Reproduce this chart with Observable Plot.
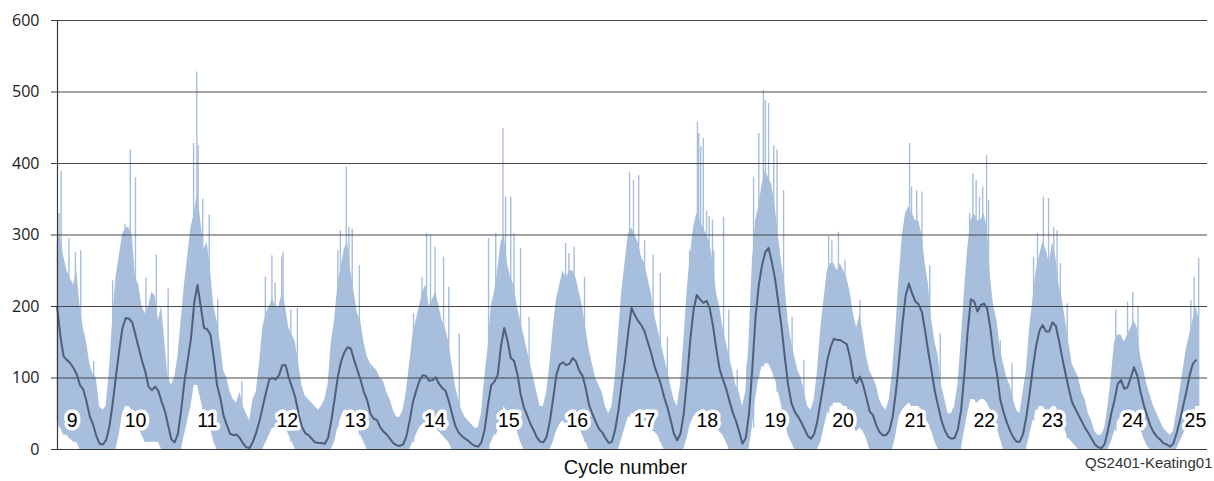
<!DOCTYPE html>
<html>
<head>
<meta charset="utf-8">
<script src="https://cdn.jsdelivr.net/npm/d3@7"></script>
<script src="https://cdn.jsdelivr.net/npm/@observablehq/plot@0.6"></script>
<style>
  html, body { margin: 0; padding: 0; background: #ffffff; }
  #chart svg { display: block; }
</style>
</head>
<body>
<div id="chart"></div>
<script>
// ---- data (half-year samples starting 1849.0) ----
const startYear = 1849.0;
const stepYears = 0.5;

// 13-month smoothed sunspot number (dark line)
const smoothed = [
  199,158,130,125,121,114,105,90,84,67, 46,35,19,8,7,13,32,64,102,138,
  170,184,183,178,160,142,124,109,88,83, 88,82,67,54,34,14,10,22,55,95,
  125,155,205,230,200,170,168,160,128,90, 72,47,34,22,20,21,16,8,3,2,
  11,24,40,60,80,98,100,98,104,118, 118,100,87,72,50,32,23,20,15,10,
  9,9,8,16,40,70,102,123,136,143, 141,125,111,97,80,69,50,43,41,31,
  25,21,15,9,6,5,7,18,40,66, 82,96,104,103,96,97,101,92,86,82,
  68,50,33,24,19,15,12,8,5,4, 10,28,62,90,95,104,145,170,152,128,
  124,106,78,59,48,36,27,17,11,10, 18,40,72,105,119,122,118,120,128,123,
  110,103,85,62,50,39,29,24,16,9, 11,28,55,92,124,165,198,188,180,174,
  165,150,135,117,104,91,73,59,41,22, 13,22,50,97,153,195,216,210,205,208,
  197,172,140,112,98,85,68,52,40,25, 8,16,50,112,185,230,258,276,282,262,
  238,205,170,128,90,65,53,46,38,29, 19,15,22,41,69,97,125,143,155,153,
  153,150,147,128,100,93,102,90,72,53, 48,34,24,20,20,26,45,80,125,175,
  215,232,218,207,203,192,165,135,108,80, 60,40,27,18,15,16,28,55,105,165,
  210,207,193,202,204,197,168,130,105,70, 52,38,26,17,11,11,22,46,78,115,
  145,166,174,165,165,178,173,152,128,106, 85,66,57,48,39,30,23,15,7,3,
  2,8,27,50,69,92,97,85,87,101, 115,103,80,62,47,33,24,18,14,9,
  7,4,8,22,40,60,80,103,120,125
];

// upper edge of the dense monthly band (light blue)
const monthlyHigh = [
  290,300,270,250,240,230,250,200,170,150, 120,105,100,60,55,60,110,180,240,270,
  300,310,310,300,240,230,200,190,200,220, 215,180,200,150,100,90,100,130,180,230,
  270,310,330,360,320,280,290,250,200,180, 150,110,100,80,70,65,80,60,50,40,
  70,80,120,170,190,200,210,200,200,220, 200,170,160,150,120,90,75,70,65,60,
  55,60,70,90,150,180,230,255,280,290, 250,220,190,180,150,130,120,115,110,100,
  95,80,70,55,45,45,55,80,120,160, 180,200,220,230,200,210,220,200,180,170,
  150,120,90,70,55,45,40,35,30,30, 50,100,140,200,220,250,290,300,260,240,
  230,200,180,160,140,120,100,80,60,60, 80,120,170,210,230,250,240,250,250,240,
  220,200,170,140,120,100,90,80,60,50, 60,100,160,220,260,300,310,300,290,270,
  260,240,220,190,170,150,130,110,90,70, 60,90,150,220,270,310,330,320,310,300,
  290,260,220,200,170,150,130,110,90,80, 60,80,150,260,320,340,370,390,380,370,
  340,300,260,230,180,150,130,110,100,80, 60,55,70,110,170,210,250,260,260,250,
  260,250,240,220,190,170,190,160,130,110, 100,90,70,60,55,70,110,170,240,300,
  330,340,330,320,320,300,260,230,180,150, 130,90,70,50,50,60,90,150,220,280,
  320,330,320,320,330,310,240,200,180,140, 120,100,90,70,55,50,80,110,170,210,
  250,270,290,280,260,290,270,230,210,180, 150,120,110,100,80,70,50,40,25,20,
  20,30,60,100,150,160,160,150,160,170, 180,170,130,110,90,75,60,50,40,30,
  25,20,25,50,80,110,140,160,180,200,180
];

// lower edge of the dense monthly band
const monthlyLow = [
  40,30,20,20,15,10,10,0,0,0, 0,0,0,0,0,0,0,0,0,20,
  50,60,60,55,40,30,20,10,10,10, 10,10,0,0,0,0,0,0,0,20,
  40,60,90,90,70,50,40,30,10,0, 0,0,0,0,0,0,0,0,0,0,
  0,0,0,0,10,20,30,30,30,30, 30,20,10,0,0,0,0,0,0,0,
  0,0,0,0,0,10,30,45,55,55, 50,40,30,20,10,0,0,0,0,0,
  0,0,0,0,0,0,0,0,0,10, 20,30,35,35,30,30,30,25,20,15,
  10,0,0,0,0,0,0,0,0,0, 0,0,0,10,20,25,45,60,50,40,
  35,25,10,0,0,0,0,0,0,0, 0,0,10,25,35,40,35,35,40,35,
  30,20,10,0,0,0,0,0,0,0, 0,0,0,15,30,45,50,50,45,40,
  40,35,30,25,20,10,0,0,0,0, 0,0,0,15,35,45,50,50,50,50,
  45,40,30,25,20,10,0,0,0,0, 0,0,0,30,70,100,115,120,120,110,
  100,80,60,40,20,10,0,0,0,0, 0,0,0,0,10,30,50,60,65,65,
  65,60,60,45,30,25,30,25,15,0, 0,0,0,0,0,0,0,20,45,55,
  60,65,60,60,60,55,45,35,25,10, 0,0,0,0,0,0,0,0,25,50,
  70,70,65,70,70,65,55,40,30,15, 0,0,0,0,0,0,0,0,20,40,
  55,60,60,55,55,60,60,50,40,25, 15,10,5,0,0,0,0,0,0,0,
  0,0,0,10,25,40,45,35,35,45, 55,45,30,15,5,0,0,0,0,0,
  0,0,0,0,10,20,30,45,55,60,60
];

// prominent single-month spikes
const spikeYears = [
  1849.3,1849.6,1850.8,1851.8,1852.6,1854.6,1857.5,1859.4,1860.2,1861.0,1862.6,1864.2,1866.0,1867.9,
  1869.9,1870.4,1870.6,1871.3,1872.3,1873.6,1877.3,
  1880.9,1881.9,1882.4,1883.4,1883.6,1884.8,1885.8,1892.0,1892.4,1893.3,1893.7,1894.2,1895.3,
  1903.6,1904.9,1905.6,1906.2,1906.9,1908.2,1909.0,1910.6,
  1915.1,1916.2,1917.3,1917.7,1918.5,1919.0,1920.0,1921.3,1926.9,1927.4,1928.2,1929.8,
  1936.7,1937.3,1938.1,1939.0,1940.3,1941.4,1942.5,1945.9,
  1947.1,1947.3,1947.6,1948.0,1948.5,1948.9,1949.4,1949.6,1951.1,1951.9,1953.2,1954.7,
  1955.7,1956.5,1957.2,1957.5,1958.0,1958.8,1959.3,1960.3,1961.6,1963.4,
  1967.2,1967.7,1968.7,1969.7,1972.0,
  1979.6,1979.9,1980.7,1981.5,1982.7,1984.3,1987.4,1988.8,
  1989.3,1989.8,1990.3,1990.8,1991.4,1991.7,1993.5,1995.3,1998.6,
  1999.2,2000.1,2000.9,2001.7,2002.2,2002.7,2003.75,
  2011.2,2013.0,2013.8,2014.6,2022.7,2023.2,2023.9
];
const spikeValues = [
  330,389,295,275,278,123,236,315,419,380,240,272,225,150,
  428,528,425,350,328,210,95,
  241,271,232,269,276,195,197,278,306,395,311,308,257,
  190,241,302,300,283,269,227,162,
  295,302,449,353,353,302,281,185,288,274,283,241,
  388,376,383,292,272,246,157,278,
  458,442,423,435,334,326,321,278,325,195,111,120,
  381,442,502,488,484,425,419,362,185,125,
  298,292,304,265,208,
  428,367,362,360,257,162,120,330,
  386,376,353,367,411,348,152,120,269,
  302,353,351,311,306,260,204,
  195,206,220,199,208,241,267
];

// solar cycle labels
const cycleNames = ["9","10","11","12","13","14","15","16","17","18","19","20","21","22","23","24","25"];
const cycleLabelYears = [1851.3,1861.0,1872.0,1884.25,1894.7,1906.85,1918.2,1928.7,1939.0,1948.6,1959.05,1969.4,1980.5,1991.05,2001.5,2013.8,2023.4];

const yTicks = [0,100,200,300,400,500,600];
const xDomain = [1849.05, 2025.25];
const xTitle = "Cycle number";
const caption = "QS2401-Keating01";

// ---- build tables ----
const band = monthlyHigh.map((h, i) => ({t: startYear + i * stepYears, hi: h, lo: monthlyLow[i]}));
const smooth = smoothed.map((v, i) => ({t: startYear + i * stepYears, v}));
const loAt = t => {
  const i = Math.max(0, Math.min(band.length - 1, Math.round((t - startYear) / stepYears)));
  return band[i].lo;
};
const spikes = spikeYears.map((t, i) => ({t, v: spikeValues[i], lo: loAt(t)}));
const labels = cycleNames.map((n, i) => ({name: n, t: cycleLabelYears[i]}));

const blue = "#a7bedc";

const chart = Plot.plot({
  width: 1214,
  height: 481,
  marginLeft: 57,
  marginRight: 7,
  marginTop: 20,
  marginBottom: 32,
  style: {background: "#ffffff", fontFamily: "'Liberation Sans', Arial, sans-serif", overflow: "visible"},
  x: {domain: xDomain, axis: null},
  y: {domain: [0, 600], axis: null},
  marks: [
    Plot.areaY(band, {x: "t", y1: "lo", y2: "hi", fill: blue}),
    Plot.ruleX(spikes, {x: "t", y1: "lo", y2: "v", stroke: blue, strokeWidth: 1.4}),
    Plot.ruleY(yTicks.filter(d => d > 0), {stroke: "#474747", strokeWidth: 1}),
    Plot.text(labels, {
      x: "t", text: "name", frameAnchor: "bottom", dy: -23,
      fontSize: 19.5, fill: "#000", stroke: "#ffffff", strokeWidth: 7,
      strokeLinejoin: "round", paintOrder: "stroke",
      fontFamily: "'Liberation Sans', Arial, sans-serif"
    }),
    Plot.line(smooth, {x: "t", y: "v", stroke: "#4f5f7a", strokeWidth: 2}),
    Plot.ruleY([0], {stroke: "#3a3a3a", strokeWidth: 1.2}),
    Plot.ruleX([xDomain[0]], {stroke: "#3a3a3a", strokeWidth: 1.2}),
    Plot.axisY({
      ticks: yTicks, tickSize: 6, tickPadding: 12, label: null,
      stroke: "#3a3a3a", fill: "#1a1a1a", fontSize: 16,
      fontFamily: "'Open Sans', sans-serif"
    }),
    Plot.text([xTitle], {
      frameAnchor: "bottom", dx: -7, dy: 24.5, fontSize: 20, fill: "#111",
      fontFamily: "'Liberation Sans', Arial, sans-serif"
    }),
    Plot.text([caption], {
      frameAnchor: "bottom-right", dx: 5, dy: 18, textAnchor: "end",
      fontSize: 15, fill: "#333",
      fontFamily: "'Liberation Sans', Arial, sans-serif"
    })
  ]
});

document.getElementById("chart").appendChild(chart);
</script>
</body>
</html>
